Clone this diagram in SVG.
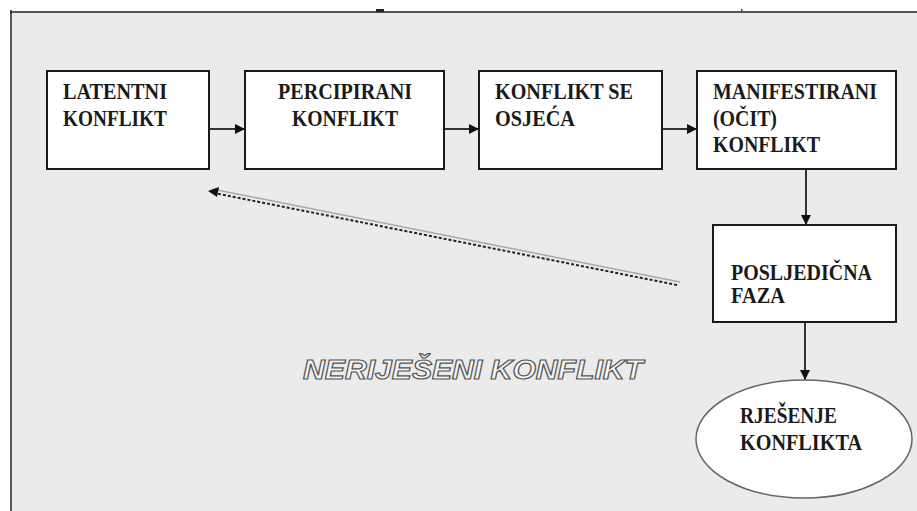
<svg xmlns="http://www.w3.org/2000/svg" width="917" height="511" viewBox="0 0 917 511">
<style>
.node{fill:#ffffff;stroke:#1a1a1a;stroke-width:2}
.lbl{font-family:"Liberation Serif","Times New Roman","DejaVu Serif",serif;font-weight:bold;font-size:23px;fill:#1a1a1a}
.conn{stroke:#333333;stroke-width:2;fill:none}
.big{font-family:"Liberation Sans",Arial,sans-serif;font-weight:bold;font-style:italic;font-size:28px;fill:#f4f4f4;stroke:#555555;stroke-width:1.2}
</style>
<defs>
<marker id="ah" viewBox="0 0 10 10" refX="10" refY="5" markerWidth="10" markerHeight="10" markerUnits="userSpaceOnUse" orient="auto">
<path d="M0,0 L10,5 L0,10 z" fill="#111111"/>
</marker>
</defs>
<rect x="0" y="0" width="917" height="511" fill="#ffffff"/>
<rect x="11" y="12" width="906" height="499" fill="#ebebeb"/>
<line x1="10" y1="12" x2="917" y2="12" stroke="#222222" stroke-width="1.5"/>
<line x1="11" y1="10" x2="11" y2="511" stroke="#222222" stroke-width="1.5"/>
<rect x="376" y="9" width="8" height="3" fill="#222222"/>
<rect x="741" y="9" width="1.5" height="3" fill="#444444"/>

<g id="connectors">
<line class="conn" x1="209" y1="129" x2="245" y2="129" marker-end="url(#ah)"/>
<line class="conn" x1="444" y1="129" x2="479" y2="129" marker-end="url(#ah)"/>
<line class="conn" x1="662" y1="129" x2="697" y2="129" marker-end="url(#ah)"/>
<line class="conn" x1="806" y1="169" x2="806" y2="225" marker-end="url(#ah)"/>
<line class="conn" x1="805" y1="322" x2="805" y2="380" marker-end="url(#ah)"/>
<g id="feedback">
<line x1="680" y1="282" x2="212" y2="189" stroke="#a8a8a8" stroke-width="1.5"/>
<line x1="677" y1="285" x2="214" y2="193" stroke="#222222" stroke-width="2" stroke-dasharray="3 2"/>
<path d="M208,191 L219,187 L217,197 z" fill="#111111"/>
</g>
</g>

<g id="n1">
<rect class="node" x="47" y="71" width="162" height="98"/>
<text class="lbl" x="63" y="99" textLength="104" lengthAdjust="spacingAndGlyphs">LATENTNI</text>
<text class="lbl" x="63" y="126" textLength="104" lengthAdjust="spacingAndGlyphs">KONFLIKT</text>
</g>
<g id="n2">
<rect class="node" x="245" y="71" width="199" height="98"/>
<text class="lbl" x="278" y="99" textLength="134" lengthAdjust="spacingAndGlyphs">PERCIPIRANI</text>
<text class="lbl" x="292" y="126" textLength="106" lengthAdjust="spacingAndGlyphs">KONFLIKT</text>
</g>
<g id="n3">
<rect class="node" x="479" y="71" width="183" height="98"/>
<text class="lbl" x="495" y="99" textLength="138" lengthAdjust="spacingAndGlyphs">KONFLIKT SE</text>
<text class="lbl" x="495" y="126" textLength="80" lengthAdjust="spacingAndGlyphs">OSJEĆA</text>
</g>
<g id="n4">
<rect class="node" x="697" y="71" width="199" height="98"/>
<text class="lbl" x="713" y="99" textLength="164" lengthAdjust="spacingAndGlyphs">MANIFESTIRANI</text>
<text class="lbl" x="713" y="126" textLength="64" lengthAdjust="spacingAndGlyphs">(OČIT)</text>
<text class="lbl" x="713" y="152" textLength="107" lengthAdjust="spacingAndGlyphs">KONFLIKT</text>
</g>
<g id="n5">
<rect class="node" x="713" y="225" width="183" height="97"/>
<text class="lbl" x="731" y="280" textLength="141" lengthAdjust="spacingAndGlyphs">POSLJEDIČNA</text>
<text class="lbl" x="731" y="303" textLength="54" lengthAdjust="spacingAndGlyphs">FAZA</text>
</g>
<g id="n6">
<ellipse cx="804" cy="439" rx="108" ry="59" fill="#ffffff" stroke="#666666" stroke-width="1.5"/>
<text class="lbl" x="740" y="423" textLength="97" lengthAdjust="spacingAndGlyphs">RJEŠENJE</text>
<text class="lbl" x="740" y="450" textLength="122" lengthAdjust="spacingAndGlyphs">KONFLIKTA</text>
</g>
<text class="big" x="303" y="379" textLength="340" lengthAdjust="spacingAndGlyphs">NERIJEŠENI KONFLIKT</text>
</svg>
